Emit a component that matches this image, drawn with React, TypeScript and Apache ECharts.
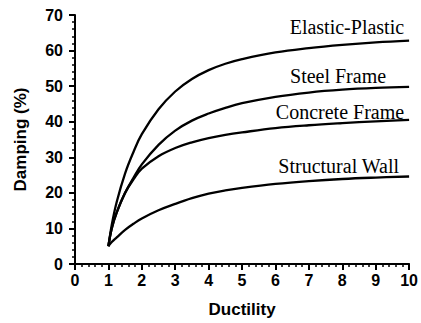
import React, { useEffect, useRef } from "react";
import * as echarts from "echarts";

const ductility = [1, 1.1, 1.25, 1.5, 1.75, 2, 2.5, 3, 3.5, 4, 4.5, 5, 6, 7, 8, 9, 10];
const elasticPlastic = [5, 11, 17.5, 25.5, 31.5, 36.5, 43.5, 48.5, 52, 54.5, 56.3, 57.6, 59.5, 60.7, 61.6, 62.3, 62.8];
const steelFrame = [5, 10, 14.5, 20, 24.2, 28, 33.5, 37.5, 40.3, 42.3, 43.9, 45.2, 47, 48.2, 49, 49.5, 49.8];
const concreteFrame = [5, 10, 14.5, 20, 23.8, 26.8, 30.3, 32.6, 34.2, 35.4, 36.3, 37, 38.2, 39, 39.6, 40.1, 40.5];
const structuralWall = [5, 6.2, 7.5, 9.6, 11.3, 12.8, 15.1, 16.9, 18.5, 19.8, 20.7, 21.4, 22.5, 23.3, 23.9, 24.3, 24.6];
const seriesNames = ["Elastic-Plastic", "Steel Frame", "Concrete Frame", "Structural Wall"];
const labelOffsets = [[-13, -14], [-31, -11], [-13, -8], [-18, -10]];

export default function App() {
  const ref = useRef<HTMLDivElement>(null);
  useEffect(() => {
    if (!ref.current) return;
    const chart = echarts.init(ref.current, null, { renderer: "svg" });
    const all = [elasticPlastic, steelFrame, concreteFrame, structuralWall];
    const series = all.map((vals, si) => ({
      type: "line",
      name: seriesNames[si],
      smooth: 0.4,
      showSymbol: false,
      symbol: "none",
      lineStyle: { color: "#000", width: 2.3 },
      endLabel: {
        show: true,
        formatter: seriesNames[si],
        align: "right",
        verticalAlign: "middle",
        offset: labelOffsets[si],
        fontFamily: "Liberation Serif",
        fontSize: 20,
        color: "#000",
      },
      data: vals.map((v, i) => [ductility[i], v]),
    }));
    chart.setOption({
      animation: false,
      backgroundColor: "#fff",
      grid: { left: 75, right: 11, top: 15, bottom: 55 },
      xAxis: {
        type: "value",
        min: 0,
        max: 10,
        interval: 1,
        name: "Ductility",
        nameLocation: "middle",
        nameGap: 37,
        nameTextStyle: { fontFamily: "Liberation Sans", fontWeight: "bold", fontSize: 17, color: "#000" },
        axisLine: { lineStyle: { color: "#000", width: 2 } },
        axisTick: { show: true, length: 6, lineStyle: { color: "#000", width: 2 } },
        minorTick: { show: true, splitNumber: 5, length: 3, lineStyle: { color: "#000", width: 1.5 } },
        splitLine: { show: false },
        axisLabel: { fontFamily: "Liberation Sans", fontWeight: "bold", fontSize: 16, color: "#000", margin: 8 },
      },
      yAxis: {
        type: "value",
        min: 0,
        max: 70,
        interval: 10,
        name: "Damping (%)",
        nameLocation: "middle",
        nameGap: 46,
        nameTextStyle: { fontFamily: "Liberation Sans", fontWeight: "bold", fontSize: 17, color: "#000" },
        axisLine: { show: true, lineStyle: { color: "#000", width: 2 } },
        axisTick: { show: true, length: 6, lineStyle: { color: "#000", width: 2 } },
        minorTick: { show: true, splitNumber: 5, length: 3, lineStyle: { color: "#000", width: 1.5 } },
        splitLine: { show: false },
        axisLabel: { fontFamily: "Liberation Sans", fontWeight: "bold", fontSize: 16, color: "#000", margin: 12 },
      },
      series,
    });
    return () => chart.dispose();
  }, []);
  return <div ref={ref} style={{ width: 421, height: 323, position: "absolute", left: 0, top: 0 }} />;
}
